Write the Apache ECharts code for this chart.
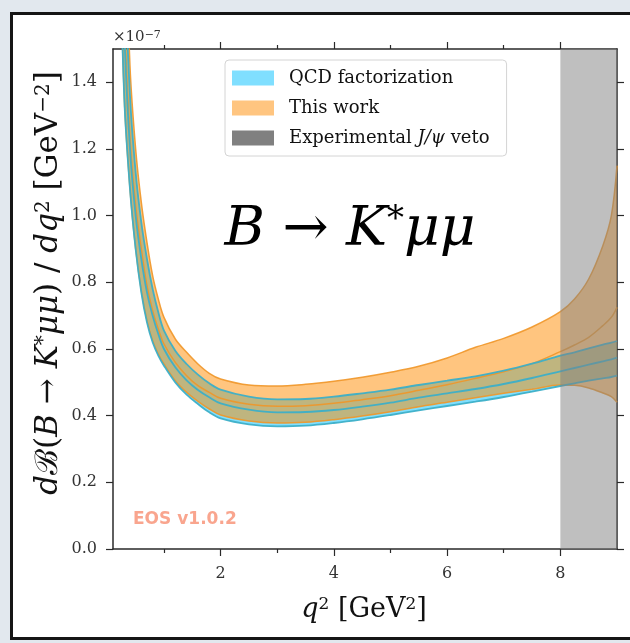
<!DOCTYPE html>
<html lang="en">
<head>
<meta charset="UTF-8">
<title>B to K* mu mu</title>
<style>
  html, body { margin: 0; padding: 0; width: 100%; height: 100%; background: #e2e8ee; overflow: hidden; }
  #chart { width: 630px; height: 643px; }
</style>
</head>
<body>
<div id="chart"></div>
<script src="https://cdn.jsdelivr.net/npm/echarts@6/dist/echarts.min.js"></script>
<script>
// q^2 sampling points [GeV^2]
const q2 = [0.2, 0.3, 0.4, 0.5, 0.6, 0.7, 0.8, 0.9, 1.0, 1.2, 1.4, 1.6, 1.8, 2.0, 2.5, 3.0, 3.5,
            4.0, 4.5, 5.0, 5.5, 6.0, 6.5, 7.0, 7.5, 8.0, 8.25, 8.5, 8.75, 8.9, 9.0];

// QCD factorization band (x 1e-7)
const qcdLow  = [1.95, 1.35, 1.08, 0.90, 0.77, 0.68, 0.62, 0.58, 0.55, 0.50, 0.463, 0.435, 0.41, 0.392, 0.374, 0.368, 0.37,
                 0.378, 0.389, 0.402, 0.416, 0.429, 0.442, 0.456, 0.472, 0.489, 0.497, 0.505, 0.512, 0.516, 0.52];
const qcdMid  = [2.2, 1.55, 1.2, 1.0, 0.87, 0.77, 0.70, 0.645, 0.60, 0.545, 0.506, 0.477, 0.455, 0.437, 0.418, 0.41, 0.411,
                 0.417, 0.427, 0.439, 0.454, 0.467, 0.48, 0.495, 0.513, 0.533, 0.543, 0.553, 0.563, 0.569, 0.574];
const qcdHigh = [2.6, 1.8, 1.36, 1.13, 0.98, 0.87, 0.78, 0.71, 0.655, 0.595, 0.555, 0.523, 0.497, 0.478, 0.457, 0.449, 0.45,
                 0.457, 0.467, 0.478, 0.492, 0.505, 0.518, 0.535, 0.556, 0.58, 0.59, 0.602, 0.613, 0.619, 0.624];

// This work band (x 1e-7)
const workLow  = [1.95, 1.35, 1.08, 0.90, 0.775, 0.685, 0.625, 0.585, 0.555, 0.505, 0.47, 0.443, 0.42, 0.402, 0.384, 0.378, 0.38,
                  0.388, 0.399, 0.412, 0.427, 0.44, 0.454, 0.467, 0.479, 0.492, 0.491, 0.483, 0.468, 0.457, 0.44];
const workMid  = [2.3, 1.6, 1.23, 1.03, 0.90, 0.79, 0.715, 0.66, 0.615, 0.56, 0.52, 0.49, 0.47, 0.452, 0.434, 0.428, 0.43,
                  0.437, 0.448, 0.46, 0.476, 0.493, 0.512, 0.532, 0.556, 0.592, 0.612, 0.635, 0.67, 0.695, 0.725];
const workHigh = [2.9, 2.0, 1.45, 1.2, 1.04, 0.92, 0.82, 0.75, 0.695, 0.63, 0.59, 0.555, 0.527, 0.51, 0.492, 0.489, 0.494,
                  0.503, 0.515, 0.53, 0.548, 0.573, 0.605, 0.632, 0.666, 0.712, 0.75, 0.81, 0.91, 1.0, 1.15];

// experimental J/psi veto window
const veto = [8, 9];

const xMajor = [2, 4, 6, 8];
const xMinor = [1, 3, 5, 7];
const yTicks = [0, 0.2, 0.4, 0.6, 0.8, 1.0, 1.2, 1.4];
const xRange = [0.1, 9];
const yRange = [0, 1.5];

const SMOOTH = 0.35;
const SERIF = 'DejaVu Serif';
const AXIS = '#2a2a2a';

// band = invisible base + stacked difference (columns are [y, x] so the stack runs on y)
function band(name, lo, hi, fill) {
  return [
    {
      name: name + ' base', type: 'line', stack: name, smooth: SMOOTH, symbol: 'none', silent: true,
      encode: { x: 1, y: 0 },
      data: q2.map((x, i) => [lo[i], x]),
      lineStyle: { width: 0, opacity: 0 }, z: 2
    },
    {
      name: name, type: 'line', stack: name, smooth: SMOOTH, symbol: 'none', silent: true,
      encode: { x: 1, y: 0 },
      data: q2.map((x, i) => [hi[i] - lo[i], x]),
      lineStyle: { width: 0, opacity: 0 },
      areaStyle: { color: fill, opacity: 1 }, z: 2
    }
  ];
}

function curve(ys, color, width) {
  return {
    type: 'line', smooth: SMOOTH, symbol: 'none', silent: true,
    data: q2.map((x, i) => [x, ys[i]]),
    lineStyle: { color: color, width: width }, z: 3
  };
}

const orangeLine = 'rgba(240,150,40,0.9)';
const blueLine = 'rgba(60,175,200,0.95)';

const series = [
  ...band('QCD factorization', qcdLow, qcdHigh, 'rgba(0,191,255,0.5)'),
  ...band('This work', workLow, workHigh, 'rgba(255,140,0,0.5)'),
  curve(workLow, orangeLine, 1.5),
  curve(workMid, orangeLine, 1.5),
  curve(workHigh, orangeLine, 1.5),
  curve(qcdLow, blueLine, 1.8),
  curve(qcdMid, blueLine, 1.8),
  curve(qcdHigh, blueLine, 1.8),
  {
    name: 'Experimental J/ψ veto', type: 'custom', silent: true, z: 10, clip: true,
    data: [[veto[0], yRange[0]]],
    renderItem: function (params, api) {
      const a = api.coord([veto[0], yRange[1]]);
      const b = api.coord([veto[1], yRange[0]]);
      return {
        type: 'rect',
        shape: { x: a[0], y: a[1], width: b[0] - a[0], height: b[1] - a[1] },
        style: { fill: 'rgba(128,128,128,0.5)' }
      };
    }
  }
];

function xAxisDef(position, ticks, len, withLabels, withLine) {
  return {
    type: 'value', position: position, min: xRange[0], max: xRange[1],
    axisLine: { show: withLine, onZero: false, lineStyle: { color: AXIS, width: 1.5 } },
    axisTick: { show: true, customValues: ticks, length: len, lineStyle: { color: AXIS, width: 1.2 } },
    axisLabel: {
      show: withLabels, customValues: ticks, margin: 17,
      fontFamily: SERIF, fontSize: 16, color: '#333'
    },
    splitLine: { show: false }
  };
}

function yAxisDef(position, withLabels) {
  return {
    type: 'value', position: position, min: yRange[0], max: yRange[1],
    axisLine: { show: true, onZero: false, lineStyle: { color: AXIS, width: 1.5 } },
    axisTick: { show: true, customValues: yTicks, length: 7, lineStyle: { color: AXIS, width: 1.2 } },
    axisLabel: {
      show: withLabels, customValues: yTicks, margin: 16,
      formatter: v => v.toFixed(1),
      fontFamily: SERIF, fontSize: 16, color: '#333'
    },
    splitLine: { show: false }
  };
}

const option = {
  animation: false,
  backgroundColor: 'transparent',
  grid: { left: 113, right: 13, top: 49, bottom: 94, outerBoundsMode: 'none' },
  xAxis: [
    xAxisDef('bottom', xMajor, 7, true, true),
    xAxisDef('bottom', xMinor, 4, false, false),
    xAxisDef('top', xMajor, 7, false, true),
    xAxisDef('top', xMinor, 4, false, false)
  ],
  yAxis: [yAxisDef('left', true), yAxisDef('right', false)],
  legend: {
    orient: 'vertical', left: 225, top: 60,
    icon: 'rect', itemWidth: 42, itemHeight: 15, itemGap: 12,
    padding: [9, 17, 9, 7],
    backgroundColor: 'rgba(255,255,255,0.85)', borderColor: '#d4d4d4', borderWidth: 1, borderRadius: 4,
    selectedMode: false,
    data: [
      { name: 'QCD factorization', itemStyle: { color: '#80dfff', borderWidth: 0 } },
      { name: 'This work', itemStyle: { color: '#ffc580', borderWidth: 0 } },
      { name: 'Experimental J/ψ veto', itemStyle: { color: '#808080', borderWidth: 0 } }
    ],
    formatter: name => name.indexOf('J/ψ') >= 0
      ? '{r|Experimental }{i|J/ψ}{r| veto}'
      : '{r|' + name + '}',
    textStyle: {
      fontFamily: SERIF, fontSize: 18, color: '#111', padding: [0, 0, 0, 10],
      rich: {
        r: { fontFamily: SERIF, fontSize: 18, color: '#111' },
        i: { fontFamily: SERIF, fontSize: 18, fontStyle: 'italic', color: '#111' }
      }
    }
  },
  graphic: [
    {
      type: 'rect', z: -100, silent: true,
      shape: { x: 11.5, y: 13.5, width: 640, height: 625 },
      style: { fill: '#ffffff', stroke: '#151515', lineWidth: 3 }
    },
    {
      type: 'text', x: 113, y: 45, silent: true,
      style: {
        text: '{r|×10}{s|−7}', align: 'left', verticalAlign: 'bottom',
        rich: {
          r: { fontFamily: SERIF, fontSize: 15, fill: '#333' },
          s: { fontFamily: SERIF, fontSize: 11, fill: '#333', verticalAlign: 'top' }
        }
      }
    },
    {
      type: 'text', x: 350, y: 231, silent: true,
      style: {
        text: '{i|B}{r| → }{i|K}{s|*}{i|μμ}', align: 'center', verticalAlign: 'middle',
        rich: {
          i: { fontFamily: SERIF, fontSize: 55, fontStyle: 'italic', fill: '#000' },
          r: { fontFamily: SERIF, fontSize: 55, fill: '#000' },
          s: { fontFamily: SERIF, fontSize: 34, fill: '#000', verticalAlign: 'top' }
        }
      }
    },
    {
      type: 'text', x: 133, y: 520, silent: true,
      style: {
        text: 'EOS v1.0.2', align: 'left', verticalAlign: 'middle',
        fontFamily: 'DejaVu Sans', fontWeight: 'bold', fontSize: 17, fill: '#f9a58e'
      }
    },
    {
      type: 'text', x: 364, y: 610, silent: true,
      style: {
        text: '{i|q}{s|2}{r| [GeV}{s|2}{r|]}', align: 'center', verticalAlign: 'middle',
        rich: {
          i: { fontFamily: SERIF, fontSize: 27, fontStyle: 'italic', fill: '#111' },
          r: { fontFamily: SERIF, fontSize: 27, fill: '#111' },
          s: { fontFamily: SERIF, fontSize: 17, fill: '#111', verticalAlign: 'top' }
        }
      }
    },
    {
      type: 'text', x: 49, y: 283, rotation: Math.PI / 2, silent: true,
      style: {
        text: '{i|d}{r|ℬ(}{i|B}{r| → }{i|K}{s|*}{i|μμ}{r|) / }{i|dq}{s|2}{r| [GeV}{s|−2}{r|]}',
        align: 'center', verticalAlign: 'middle',
        rich: {
          i: { fontFamily: SERIF, fontSize: 31, fontStyle: 'italic', fill: '#111' },
          r: { fontFamily: SERIF, fontSize: 31, fill: '#111' },
          s: { fontFamily: SERIF, fontSize: 20, fill: '#111', verticalAlign: 'top' }
        }
      }
    }
  ],
  series: series
};

const chart = echarts.init(document.getElementById('chart'), null, { renderer: 'canvas' });
chart.setOption(option);
</script>
</body>
</html>
